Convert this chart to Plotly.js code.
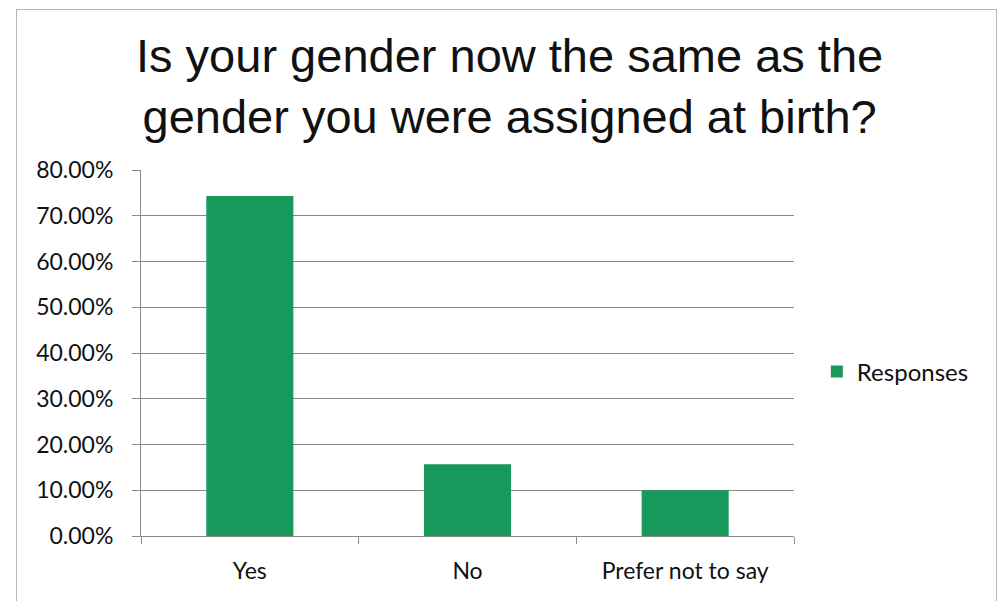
<!DOCTYPE html>
<html>
<head>
<meta charset="utf-8">
<script src="https://cdn.plot.ly/plotly-3.0.1.min.js"></script>
<style>
html,body{margin:0;padding:0;background:#fff;}
#frame{position:absolute;left:16px;top:9px;width:981px;height:620px;border:1px solid #b5b5b5;box-sizing:border-box;pointer-events:none;}
#chart{position:absolute;left:0;top:0;width:1005px;height:601px;}
</style>
</head>
<body>
<div id="chart"></div>
<div id="frame"></div>
<script>
const categories = ["Yes", "No", "Prefer not to say"];
const responses = [0.743, 0.157, 0.100];
const seriesName = "Responses";
const chartTitle = "Is your gender now the same as the<br>gender you were assigned at birth?";
const yTickValues = [0, 0.1, 0.2, 0.3, 0.4, 0.5, 0.6, 0.7, 0.8];
const yTickLabels = ["0.00%", "10.00%", "20.00%", "30.00%", "40.00%", "50.00%", "60.00%", "70.00%", "80.00%"];

const trace = {
  type: "bar",
  x: categories,
  y: responses,
  name: seriesName,
  marker: {color: "#17995b"},
  width: 0.4,
  showlegend: true,
  hoverinfo: "x+y"
};

const layout = {
  width: 1005,
  height: 601,
  paper_bgcolor: "rgba(0,0,0,0)",
  plot_bgcolor: "rgba(0,0,0,0)",
  margin: {l: 141, r: 211, t: 170, b: 65},
  annotations: [{
    text: chartTitle,
    xref: "paper", yref: "paper",
    x: 0.565, xanchor: "center",
    y: 1 + (170 - 86) / 366, yanchor: "middle",
    showarrow: false,
    font: {family: "Liberation Sans, Arial, sans-serif", size: 47, color: "#111"}
  }],
  xaxis: {
    type: "category",
    tickson: "boundaries",
    ticks: "outside",
    ticklen: 7,
    tickcolor: "#8a8a8a",
    showline: true,
    linecolor: "#8a8a8a",
    linewidth: 1,
    showgrid: false,
    ticklabelstandoff: 14,
    tickfont: {family: "Lato, Carlito, sans-serif", size: 23, color: "#111"}
  },
  yaxis: {
    range: [0, 0.8],
    tickvals: yTickValues,
    ticktext: yTickLabels,
    ticks: "outside",
    ticklen: 8,
    tickcolor: "#8a8a8a",
    showline: true,
    linecolor: "#8a8a8a",
    linewidth: 1,
    showgrid: true,
    gridcolor: "#8a8a8a",
    gridwidth: 1,
    zeroline: false,
    ticklabelstandoff: 14,
    tickfont: {family: "Lato, Carlito, sans-serif", size: 23, color: "#111"}
  },
  legend: {
    x: 1.035, xanchor: "left",
    y: (536 - 372) / 366, yanchor: "middle",
    font: {family: "Lato, Carlito, sans-serif", size: 24, color: "#111"},
    itemwidth: 30,
    bgcolor: "rgba(0,0,0,0)"
  },
  bargap: 0.6
};

Plotly.newPlot("chart", [trace], layout, {displayModeBar: false, staticPlot: true});
</script>
</body>
</html>
